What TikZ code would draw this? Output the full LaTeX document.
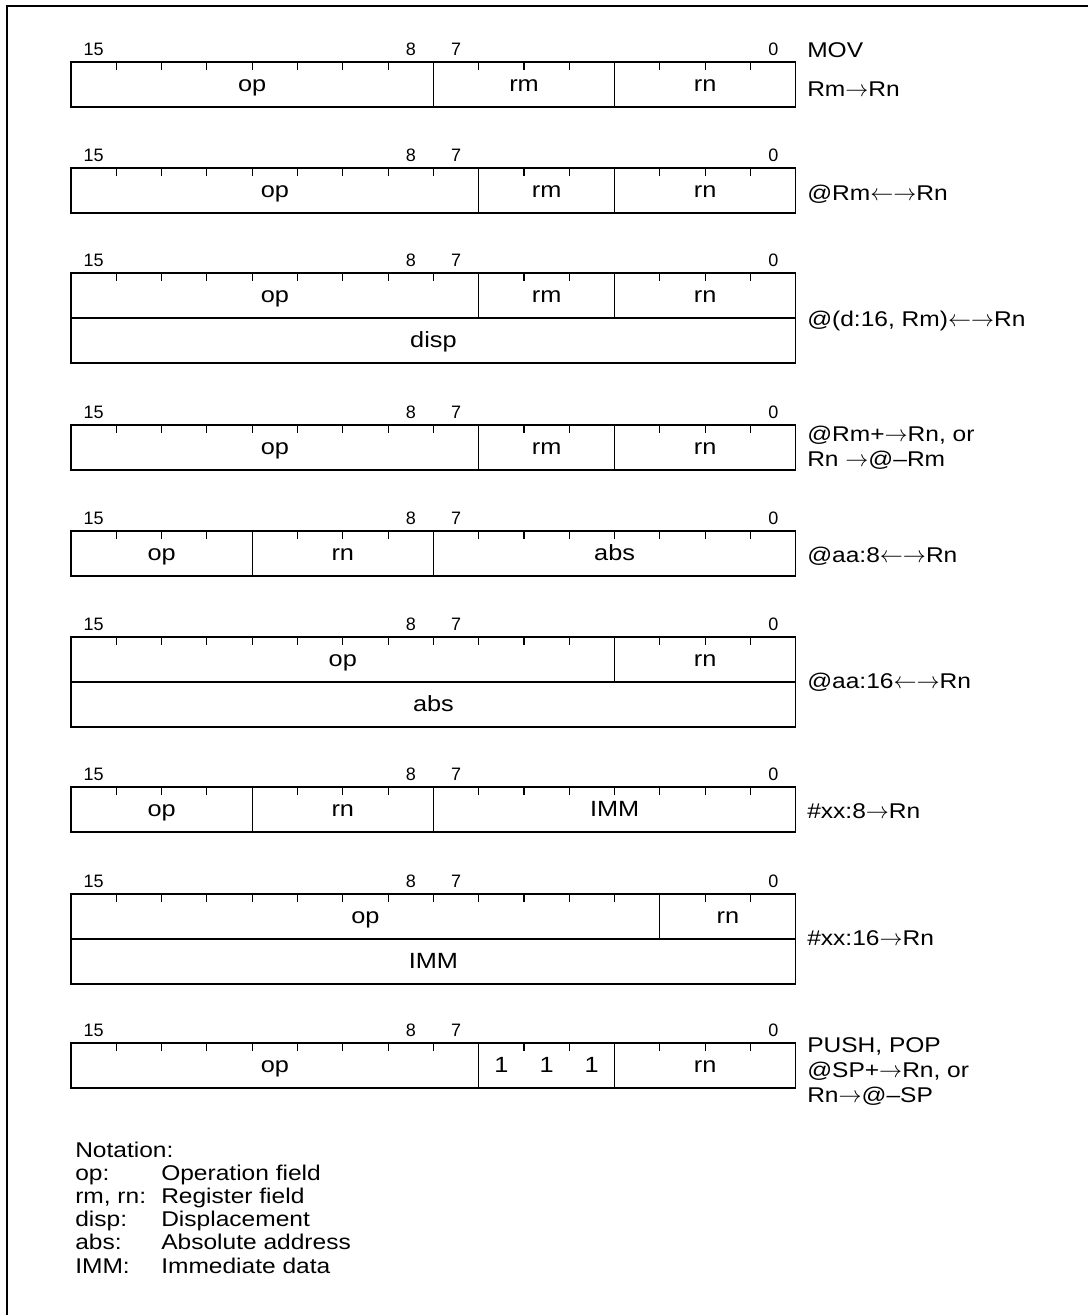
\documentclass[tikz,border=0pt]{standalone}
\usepackage{fontspec}
\setmainfont{Liberation Sans}[FakeStretch=1.15]
\newfontfamily\numfont{Liberation Sans}
\usetikzlibrary{positioning}

\newlength{\bitw}
\setlength{\bitw}{33.975pt}
% name, first bit column from the left, width in bits, top edge, text
\newcommand{\fld}[5]{\node[field, minimum width={#3*\bitw}] (#1) at ({71+45.3*#2},#4) {#5};}
\newcommand{\toarr}{$\rightarrow$}
\newcommand{\botharr}{$\leftarrow\rightarrow$}

\begin{document}
\begin{tikzpicture}[
  x=0.75pt, y=-0.75pt,
  field/.style={draw, line width=0.8pt, anchor=north west, minimum height=33.75pt, inner sep=0pt, outer sep=0pt,
    text height=10.5pt, text depth=0pt, font=\fontsize{16.5}{19}\selectfont},
  tick/.style={line width=0.8pt},
  bitno/.style={anchor=base, inner sep=0pt, font=\numfont\fontsize{13.5}{16}\selectfont},
  lbl/.style={anchor=base west, inner sep=0pt, font=\fontsize{16}{18.9}\selectfont},
  frame/.style={line width=1.65pt}
]
  \useasboundingbox (0,0) rectangle (1088,1315);
  \draw[frame] (6.7,1315) -- (6.7,5.7) -- (1088,5.7);

  \foreach \rw/\yt in {1/62,2/168,3/273,4/425,5/531,6/637,7/787,8/894,9/1043} {
    \foreach \i in {1,...,15} \draw[tick] ({71+45.3*\i},\yt) -- ++(0,7.5);
    \node[bitno] (b15-\rw) at (93.6,\yt-6.5) {15};
    \node[bitno] (b8-\rw) at (410.8,\yt-6.5) {8};
    \node[bitno] (b7-\rw) at (456.1,\yt-6.5) {7};
    \node[bitno] (b0-\rw) at (773.4,\yt-6.5) {0};
  }

  \fld{w1-op}{0}{8}{62}{op}
  \fld{w1-rm}{8}{4}{62}{rm}
  \fld{w1-rn}{12}{4}{62}{rn}
  \node[lbl] (mov) at (807,57) {MOV};
  \node[lbl] (t1) at (807,96) {Rm\toarr Rn};

  \fld{w2-op}{0}{9}{168}{op}
  \fld{w2-rm}{9}{3}{168}{rm}
  \fld{w2-rn}{12}{4}{168}{rn}
  \node[lbl] (t2) at (807,200) {@Rm\botharr Rn};

  \fld{w3-op}{0}{9}{273}{op}
  \fld{w3-rm}{9}{3}{273}{rm}
  \fld{w3-rn}{12}{4}{273}{rn}
  \fld{w3-disp}{0}{16}{318}{disp}
  \node[lbl] (t3) at (807,326) {@(d:16, Rm)\botharr Rn};

  \fld{w4-op}{0}{9}{425}{op}
  \fld{w4-rm}{9}{3}{425}{rm}
  \fld{w4-rn}{12}{4}{425}{rn}
  \node[lbl] (t4) at (807,441) {\begin{tabular}[t]{@{}l@{}}@Rm+\toarr Rn, or\\Rn \toarr @–Rm\end{tabular}};

  \fld{w5-op}{0}{4}{531}{op}
  \fld{w5-rn}{4}{4}{531}{rn}
  \fld{w5-abs}{8}{8}{531}{abs}
  \node[lbl] (t5) at (807,562) {@aa:8\botharr Rn};

  \fld{w6-op}{0}{12}{637}{op}
  \fld{w6-rn}{12}{4}{637}{rn}
  \fld{w6-abs}{0}{16}{682}{abs}
  \node[lbl] (t6) at (807,688) {@aa:16\botharr Rn};

  \fld{w7-op}{0}{4}{787}{op}
  \fld{w7-rn}{4}{4}{787}{rn}
  \fld{w7-imm}{8}{8}{787}{IMM}
  \node[lbl] (t7) at (807,818) {\#xx:8\toarr Rn};

  \fld{w8-op}{0}{13}{894}{op}
  \fld{w8-rn}{13}{3}{894}{rn}
  \fld{w8-imm}{0}{16}{939}{IMM}
  \node[lbl] (t8) at (807,945) {\#xx:16\toarr Rn};

  \fld{w9-op}{0}{9}{1043}{op}
  \fld{w9-ones}{9}{3}{1043}{1\hspace{23.3pt}1\hspace{23.3pt}1}
  \fld{w9-rn}{12}{4}{1043}{rn}
  \node[lbl] (t9) at (807,1052) {\begin{tabular}[t]{@{}l@{}}PUSH, POP\\@SP+\toarr Rn, or\\Rn\toarr @–SP\end{tabular}};

  \node[lbl, font=\fontsize{16}{17.4}\selectfont] (notation) at (75,1157) {%
    \begin{tabular}[t]{@{}p{64.5pt}@{}l@{}}
      \multicolumn{2}{@{}l@{}}{Notation:}\\
      op: & Operation field\\
      rm, rn: & Register field\\
      disp: & Displacement\\
      abs: & Absolute address\\
      IMM: & Immediate data
    \end{tabular}};
\end{tikzpicture}
\end{document}
